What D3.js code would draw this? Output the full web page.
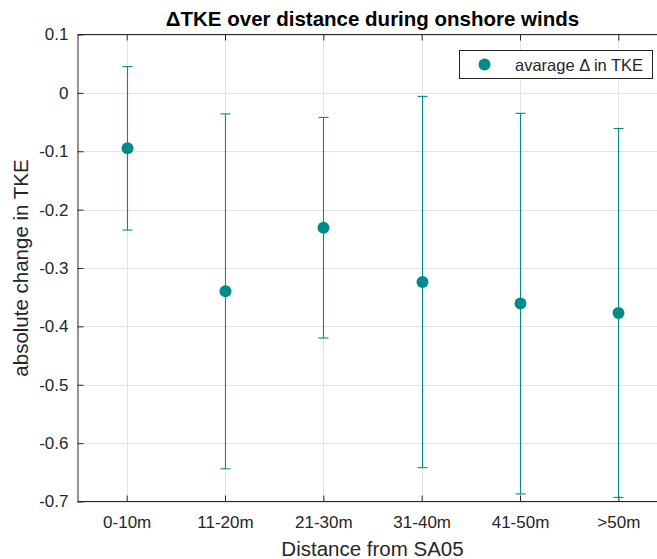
<!DOCTYPE html>
<html>
<head>
<meta charset="utf-8">
<script src="https://cdn.jsdelivr.net/npm/d3@7/dist/d3.min.js"></script>
<style>
  html, body { margin: 0; padding: 0; background: #fff; }
  svg { display: block; font-family: "Liberation Sans", Arial, sans-serif; }
</style>
</head>
<body>
<svg id="chart" width="657" height="559"></svg>
<script>
// Distance bins from station SA05
const categories = ["0-10m", "11-20m", "21-30m", "31-40m", "41-50m", ">50m"];
// Average change in TKE per bin
const meanDelta = [-0.095, -0.340, -0.231, -0.324, -0.361, -0.377];
// Symmetric error-bar half-lengths
const errDelta = [0.140, 0.304, 0.189, 0.318, 0.326, 0.316];
// Y-axis tick values
const yTicks = [0.1, 0, -0.1, -0.2, -0.3, -0.4, -0.5, -0.6, -0.7];

const ink = "#262626";
const teal = "#008b8b";
const gridCol = "#e3e3e3";

const svg = d3.select("#chart");
const plotLeft = 77.5, plotRight = 667.5, plotTop = 34.5, plotBottom = 501.5;

const x = d3.scaleLinear().domain([0.5, categories.length + 0.5]).range([plotLeft, plotRight]);
const y = d3.scaleLinear().domain([-0.7, 0.1]).range([plotBottom, plotTop]);
const xPos = i => Math.round(x(i + 1)) + 0.5;

// Grid lines
const grid = svg.append("g");
grid.selectAll("line.gy").data(yTicks).join("line")
  .attr("x1", plotLeft).attr("x2", plotRight)
  .attr("y1", d => Math.round(y(d)) + 0.5).attr("y2", d => Math.round(y(d)) + 0.5)
  .attr("stroke", gridCol).attr("stroke-width", 1);
grid.selectAll("line.gx").data(categories).join("line")
  .attr("x1", (d, i) => xPos(i)).attr("x2", (d, i) => xPos(i))
  .attr("y1", plotTop).attr("y2", plotBottom)
  .attr("stroke", gridCol).attr("stroke-width", 1);

// Axes with inward ticks
const fmt = d => d === 0 ? "0" : d3.format(".1f")(d).replace("−", "-");
const yAxis = d3.axisLeft(y).tickValues(yTicks).tickSizeInner(-6).tickSizeOuter(0).tickPadding(9).tickFormat(fmt);
const gy = svg.append("g").attr("transform", `translate(${plotLeft},0)`).call(yAxis);
gy.select(".domain").attr("stroke", ink);
gy.selectAll(".tick line").attr("stroke", ink);
gy.selectAll(".tick text").attr("fill", ink).style("font-size", "17px")
  .attr("font-family", "Liberation Sans, Arial, sans-serif");

const xBand = d3.scalePoint().domain(categories).range([x(1), x(categories.length)]);
const xAxis = d3.axisBottom(xBand).tickSizeInner(-6).tickSizeOuter(0).tickPadding(14);
const gx = svg.append("g").attr("transform", `translate(0,${plotBottom})`).call(xAxis);
gx.select(".domain").attr("d", `M${plotLeft},0H${plotRight}`).attr("stroke", ink);
gx.selectAll(".tick line").attr("stroke", ink);
gx.selectAll(".tick text").attr("fill", ink).style("font-size", "17px")
  .attr("font-family", "Liberation Sans, Arial, sans-serif");

const xAxisTop = d3.axisTop(xBand).tickSizeInner(-6).tickSizeOuter(0).tickFormat("");
const gxt = svg.append("g").attr("transform", `translate(0,${plotTop})`).call(xAxisTop);
gxt.select(".domain").attr("d", `M${plotLeft},0H${plotRight}`).attr("stroke", ink);
gxt.selectAll(".tick line").attr("stroke", ink);

// Error bars
const eb = svg.append("g").attr("stroke", teal).attr("stroke-width", 1.1).attr("fill", "none");
categories.forEach((c, i) => {
  const cx = xPos(i);
  const hi = y(meanDelta[i] + errDelta[i]);
  const lo = y(meanDelta[i] - errDelta[i]);
  eb.append("line").attr("x1", cx).attr("x2", cx).attr("y1", hi).attr("y2", lo);
  eb.append("line").attr("x1", cx - 5).attr("x2", cx + 5).attr("y1", hi).attr("y2", hi);
  eb.append("line").attr("x1", cx - 5).attr("x2", cx + 5).attr("y1", lo).attr("y2", lo);
});

// Mean markers
svg.append("g").selectAll("circle").data(meanDelta).join("circle")
  .attr("cx", (d, i) => xPos(i)).attr("cy", d => y(d)).attr("r", 6)
  .attr("fill", teal);

// Title
svg.append("text").attr("x", (plotLeft + plotRight) / 2).attr("y", 25.5)
  .attr("text-anchor", "middle").attr("fill", "#000")
  .style("font-size", "20.5px").style("font-weight", "bold")
  .text("ΔTKE over distance during onshore winds");

// Axis labels
svg.append("text").attr("x", (plotLeft + plotRight) / 2).attr("y", 556)
  .attr("text-anchor", "middle").attr("fill", ink).style("font-size", "20.5px")
  .text("Distance from SA05");
svg.append("text").attr("transform", `translate(28,${(plotTop + plotBottom) / 2}) rotate(-90)`)
  .attr("text-anchor", "middle").attr("fill", ink).style("font-size", "20.5px")
  .text("absolute change in TKE");

// Legend
const lg = svg.append("g");
lg.append("rect").attr("x", 459.5).attr("y", 50.5).attr("width", 193).attr("height", 28)
  .attr("fill", "#fff").attr("stroke", ink).attr("stroke-width", 1);
lg.append("circle").attr("cx", 484.5).attr("cy", 64.5).attr("r", 6).attr("fill", teal);
lg.append("text").attr("x", 515).attr("y", 70.5).attr("fill", ink).style("font-size", "16.5px")
  .text("avarage Δ in TKE");
</script>
</body>
</html>
